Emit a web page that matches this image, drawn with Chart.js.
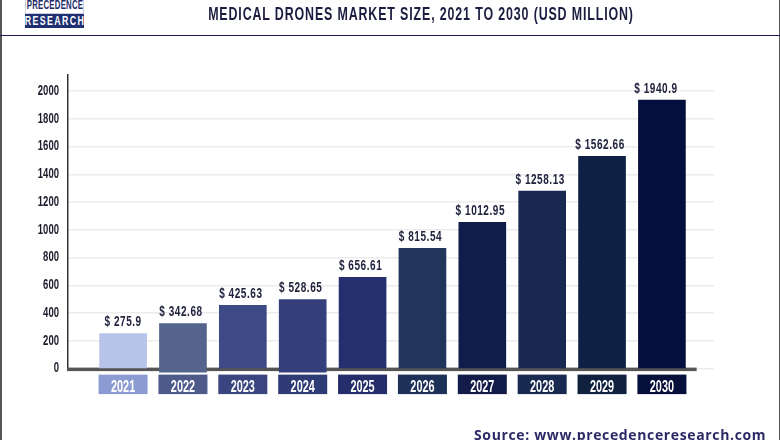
<!DOCTYPE html>
<html><head><meta charset="utf-8">
<script src="https://cdn.jsdelivr.net/npm/chart.js@4"></script>
<style>
html,body{margin:0;padding:0;background:#fff;width:780px;height:440px;overflow:hidden}
#wrap{position:relative;width:780px;height:440px;overflow:hidden}
#c{position:absolute;left:0;top:0}
.t{position:absolute;white-space:nowrap;font-family:"Liberation Sans",sans-serif;font-weight:700}
#title{left:421px;top:4px;font-size:18px;line-height:20px;color:#1b1d40;letter-spacing:1.25px;transform:translateX(-50%) scaleX(.69)}
#source{left:474px;top:425px;font-family:"Open Sans",sans-serif;font-size:14px;line-height:20px;color:#2c2a66;letter-spacing:.64px}
.box{position:absolute;left:25px;width:59px;overflow:hidden;text-align:center}
#lg1{top:-4px;height:18px;box-sizing:border-box;border:1px solid #c9cde0;border-top:0;background:#fff}
#lg2{top:14px;height:14px;background:#1f2f72}
#lg1 .t,#lg2 .t{position:absolute;left:50%;letter-spacing:.4px}
#lg1 .t{top:0;font-size:13px;line-height:17px;color:#1c2a6b;transform:translateX(-50%) scaleX(.6)}
#lg2 .t{top:0;font-size:13px;line-height:14px;color:#fff;letter-spacing:2px;transform:translateX(-50%) scaleX(.68)}
.frame{position:absolute;background:#555}
</style></head>
<body><div id="wrap">
<canvas id="c" width="780" height="440"></canvas>
<div class="frame" style="left:0;top:0;width:1.5px;height:440px"></div>
<div class="frame" style="left:778.5px;top:0;width:1.5px;height:440px"></div>
<div class="frame" style="left:0;top:34.5px;width:780px;height:1.5px;background:#1d1d55"></div>
<div class="box" id="lg1"><span class="t">PRECEDENCE</span></div>
<div class="box" id="lg2"><span class="t">RESEARCH</span></div>
<div class="t" id="title">MEDICAL DRONES MARKET SIZE, 2021 TO 2030 (USD MILLION)</div>
<div class="t" id="source">Source: www.precedenceresearch.com</div>
</div>
<script>
const years = [2021,2022,2023,2024,2025,2026,2027,2028,2029,2030];
const barHeights = [253,325,455,498,657,866,1054,1278,1530,1935];
const barFloors = [0,-25,0,-25,0,0,0,0,0,0];
const valueLabels = ["$ 275.9","$ 342.68","$ 425.63","$ 528.65","$ 656.61","$ 815.54","$ 1012.95","$ 1258.13","$ 1562.66","$ 1940.9"];
const barColors = ["#b7c4e9","#54648c","#3d4a85","#343f7c","#252e6e","#21345c","#101d48","#182850","#0f2045","#040f3d"];
const chipColors = ["#8c9cd2","#4d5a8a","#3a447f","#2f3b75","#252e6b","#1c3058","#131c48","#182a50","#10203f","#060e3a"];
const sans = '"Liberation Sans",sans-serif';
const canvas = document.getElementById('c');
const g = canvas.getContext('2d');
const baseFill = g.fillText.bind(g);
g.fillText = (t,x,y,m)=>baseFill(t,x,y,m===undefined?g.measureText(t).width*0.68:m);
const decor = {
  id:'decor',
  beforeDatasetsDraw(ch){
    const c=ch.ctx,x=ch.scales.x,y=ch.scales.y,y0=y.getPixelForValue(0);
    c.save();
    c.fillStyle='#555';
    c.fillRect(x.left-1,y0-1,x.getPixelForValue(2030.58)-x.left+1,3.5);
    c.restore();
  },
  afterDatasetsDraw(ch){
    const c=ch.ctx,x=ch.scales.x,y=ch.scales.y;
    c.save();
    c.font='700 14.5px '+sans;
    c.letterSpacing='0.8px';
    c.textAlign='center';c.textBaseline='middle';
    c.fillStyle='#22243f';
    years.forEach((yr,i)=>{
      const shift = i===0?0:(i===9?-6:-2);
      c.fillText(valueLabels[i],x.getPixelForValue(yr)+shift,y.getPixelForValue(barHeights[i])-11,c.measureText(valueLabels[i]).width*0.69);
    });
    c.restore();
  }
};
const chips = {
  id:'chips',
  beforeDraw(ch){
    const c=ch.ctx,x=ch.scales.x,y0=ch.scales.y.getPixelForValue(0);
    c.save();
    years.forEach((yr,i)=>{
      c.fillStyle=chipColors[i];
      c.fillRect(x.getPixelForValue(yr)-24.5,y0+6,49,19.5);
    });
    c.restore();
  }
};
new Chart(canvas,{
  type:'bar',
  data:{datasets:[{
    data:years.map((yr,i)=>({x:yr,y:[barFloors[i],barHeights[i]]})),
    backgroundColor:barColors,
    barThickness:47,
    clip:false
  }]},
  options:{
    responsive:false,animation:false,
    layout:{padding:{left:0,right:66,top:74.6,bottom:0}},
    plugins:{legend:{display:false},tooltip:{enabled:false}},
    scales:{
      x:{type:'linear',offset:false,min:2020.08,max:2030.87,
        afterBuildTicks(s){s.ticks=years.map(v=>({value:v}));},
        afterFit(s){s.height=71.4;},
        grid:{display:false},border:{display:false},
        ticks:{autoSkip:false,maxRotation:0,padding:1,color:'#fff',font:{family:sans,weight:'700',size:16},
          callback:v=>String(v)}},
      y:{min:0,max:2118,
        afterFit(s){s.width=68;},
        grid:{color:'#ececec',lineWidth:1.5,drawTicks:false},
        border:{display:true,color:'#333',width:1.5},
        ticks:{stepSize:200,includeBounds:false,padding:9,color:'#1c1c2c',font:{family:sans,weight:'700',size:14},
          callback:v=>String(v)}}
    }
  },
  plugins:[chips,decor]
});
</script></body></html>
